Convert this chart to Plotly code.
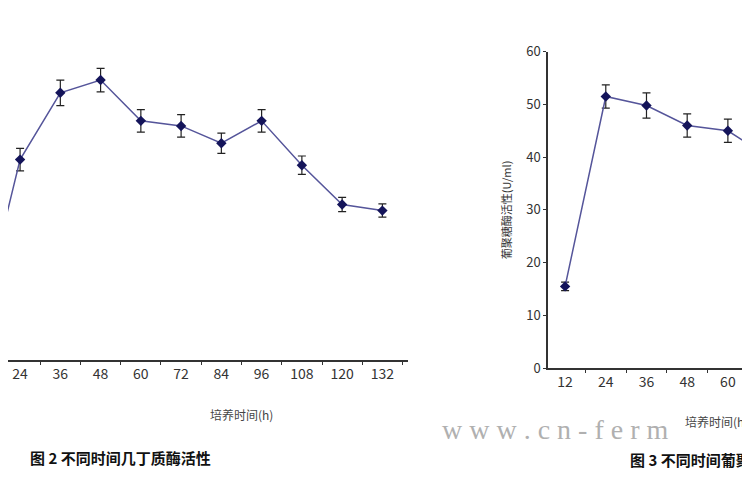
import plotly.graph_objects as go

# fig 2: chitinase activity (left, partly cut off)
hours_2 = [12, 24, 36, 48, 60, 72, 84, 96, 108, 120, 132]
act_2 = [7.0, 39.4, 52.5, 55.0, 47.0, 46.0, 42.6, 47.0, 38.3, 30.6, 29.4]
err_2 = [1.0, 2.2, 2.5, 2.3, 2.2, 2.2, 2.0, 2.2, 1.8, 1.4, 1.3]

# fig 3: glucanase activity (right, partly cut off)
hours_3 = [12, 24, 36, 48, 60, 72]
act_3 = [15.5, 51.5, 49.8, 46.0, 45.0, 40.0]
err_3 = [0.8, 2.2, 2.4, 2.2, 2.2, 2.0]

y_ticks = [0, 10, 20, 30, 40, 50, 60]

line_col = '#55559a'
mark_col = '#14145a'
font = 'Noto Sans CJK SC'

fig = go.Figure()
for xs, ys, es, xa, ya in [
    (hours_2, act_2, err_2, 'x', 'y'),
    (hours_3, act_3, err_3, 'x2', 'y2'),
]:
    fig.add_trace(go.Scatter(
        x=list(range(len(xs))), y=ys,
        mode='lines+markers',
        line=dict(color=line_col, width=1.5),
        marker=dict(symbol='diamond', size=8, color=mark_col),
        error_y=dict(type='data', array=es, color='#222222', thickness=1.2, width=4),
        xaxis=xa, yaxis=ya, showlegend=False, cliponaxis=True,
    ))

axis_common = dict(
    showgrid=False, zeroline=False, showline=True, linecolor='#333333', linewidth=1.5,
    ticks='', tickfont=dict(family=font, size=14, color='#333333'),
    minor=dict(ticks='outside', tick0=0.5, dtick=1, ticklen=3, tickcolor='#333333'),
)

fig.update_layout(
    width=750, height=500,
    margin=dict(l=0, r=0, t=0, b=0),
    paper_bgcolor='white', plot_bgcolor='white',
    xaxis=dict(**axis_common, domain=[0, 0.533], range=[0.70, 10.63],
               tickvals=list(range(len(hours_2))), ticktext=[str(h) for h in hours_2]),
    yaxis=dict(domain=[0.288, 0.924], range=[0, 60], visible=False),
    xaxis2=dict(**axis_common, domain=[0.72, 1], range=[-0.42, 4.74], anchor='y2',
                tickvals=list(range(len(hours_3))), ticktext=[str(h) for h in hours_3]),
    yaxis2=dict(domain=[0.272, 0.93], range=[0, 60], anchor='x2',
                showgrid=False, zeroline=False, showline=True, linecolor='#333333',
                linewidth=1.5, ticks='outside', ticklen=3, tickcolor='#333333',
                tickvals=y_ticks, tickfont=dict(family=font, size=13, color='#333333'),
                title=dict(text='葡聚糖酶活性(U/ml)', standoff=12,
                           font=dict(family=font, size=11, color='#333333'))),
)

fig.add_annotation(x=200, y=423, text='培养时间(h)',
                   showarrow=False, font=dict(family=font, size=12, color='#444444'))
fig.add_annotation(x=20, y=470, text='<b>图 2 不同时间几丁质酶活性</b>', xanchor='left',
                   showarrow=False, font=dict(family=font, size=15, color='#111111'))
fig.add_annotation(x=432, y=446, text='w w w . c n - f e r m', xanchor='left',
                   showarrow=False, font=dict(family='Liberation Serif', size=28, color='#b0b0b0'))
fig.add_annotation(x=675, y=430, text='培养时间(h)', xanchor='left',
                   showarrow=False, font=dict(family=font, size=12, color='#444444'))
fig.add_annotation(x=620, y=472, text='<b>图 3 不同时间葡聚糖酶活性</b>', xanchor='left',
                   showarrow=False, font=dict(family=font, size=15, color='#111111'))

# annotations above are in pixels; convert to paper coords
for a in fig.layout.annotations:
    a.xref = 'paper'
    a.yref = 'paper'
    a.x = a.x / 750
    a.y = 1 - a.y / 500

fig.write_html('out.html')
